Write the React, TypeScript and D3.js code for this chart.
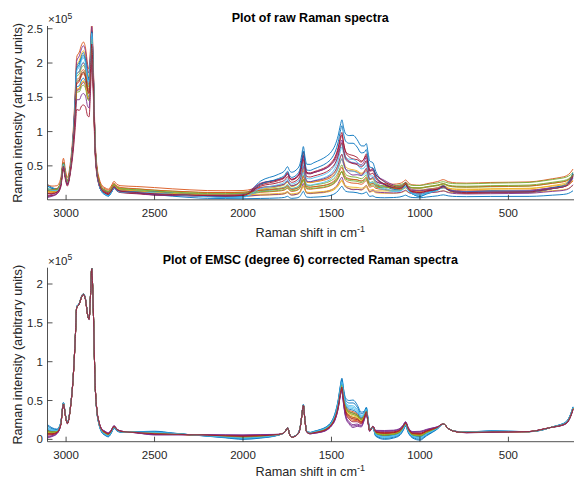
import * as d3 from 'd3'

// intensities below are in units of 1e5 (the axes show "x10^5")

// Raman shift nodes (cm-1), high to low
const shifts = [
  3105, 3080, 3052, 3030, 3015, 3003, 2993, 2975, 2959, 2948, 2940, 2925, 2912, 2902, 2890, 2878,
  2870, 2862, 2855, 2847, 2836, 2825, 2815, 2800, 2780, 2761, 2745, 2729, 2712, 2690, 2600, 2500,
  2400, 2300, 2200, 2100, 2000, 1900, 1800, 1765, 1748, 1737, 1725, 1700, 1680, 1668, 1659, 1650,
  1640, 1620, 1600, 1560, 1528, 1500, 1480, 1462, 1450, 1441, 1432, 1420, 1400, 1378, 1355, 1332,
  1315, 1303, 1294, 1284, 1266, 1250, 1200, 1150, 1113, 1095, 1081, 1066, 1040, 1000, 962, 930,
  900, 868, 840, 793, 736, 600, 500, 383, 300, 250, 209, 171, 150, 135,
]

// mean EMSC-corrected spectrum at the nodes
const corrMean = [
  0.10, 0.09, 0.10, 0.20, 0.46, 0.30, 0.21, 0.42, 0.83, 1.30, 1.70, 1.75, 1.84, 1.87, 1.80, 1.60,
  1.55, 1.85, 2.20, 1.75, 0.73, 0.35, 0.22, 0.12, 0.08, 0.06, 0.10, 0.16, 0.12, 0.10, 0.09, 0.08,
  0.07, 0.06, 0.05, 0.04, 0.03, 0.04, 0.06, 0.09, 0.15, 0.07, 0.03, 0.05, 0.12, 0.30, 0.44, 0.25,
  0.10, 0.08, 0.09, 0.11, 0.14, 0.20, 0.29, 0.45, 0.62, 0.70, 0.55, 0.40, 0.34, 0.32, 0.30, 0.25,
  0.30, 0.37, 0.25, 0.12, 0.16, 0.08, 0.06, 0.07, 0.10, 0.15, 0.20, 0.12, 0.06, 0.05, 0.09, 0.12,
  0.15, 0.20, 0.14, 0.10, 0.09, 0.10, 0.10, 0.10, 0.13, 0.16, 0.18, 0.22, 0.30, 0.40,
]

// spread of the corrected spectra around the mean (anchors)
const spreadAt = [3105, 3080, 3040, 3000, 2850, 2820, 2770, 2700, 2500, 2300, 2000, 1850, 1780, 1620, 1500, 1450, 1420, 1380, 1340, 1315, 1285, 1250, 1200, 1120, 1080, 1000, 930, 870, 600, 300, 135]
const spreadVal = [0.09, 0.06, 0.02, 0.01, 0.005, -0.02, -0.03, -0.01, 0.025, 0.0, -0.03, -0.02, 0.0, 0.01, 0.03, 0.07, 0.13, 0.19, 0.12, 0.06, 0.02, -0.04, -0.06, -0.05, -0.03, -0.06, -0.03, 0.0, 0.01, -0.005, 0.02]

// extra variation of the C-H band in the raw spectra (anchors)
const bandAt = [3105, 2965, 2948, 2940, 2925, 2902, 2890, 2878, 2870, 2862, 2855, 2845, 2830, 135]
const bandVal = [0, 0, 0.15, 0.25, 0.30, 0.33, 0.30, 0.25, 0.22, 0.15, 0.10, 0.05, 0, 0]

// share of C-H gain vs fingerprint gain (anchors)
const chAt = [3105, 2650, 2200, 135]
const chVal = [1, 1, 0, 0]

// fluorescence hump shape (anchors)
const fluoAt = [3105, 2080, 1990, 1930, 1880, 1800, 1700, 1600, 1500, 1440, 1380, 1300, 1260, 1200, 1150, 1100, 1000, 900, 135]
const fluoVal = [0, 0, 0.05, 0.35, 0.55, 0.6, 0.72, 0.85, 0.97, 1.0, 1.0, 0.9, 0.75, 0.45, 0.25, 0.12, 0.05, 0, 0]

// sloping baseline shape (anchors)
const tiltAt = [3105, 2700, 2100, 1500, 1000, 700, 400, 250, 135]
const tiltVal = [0, 0.05, 0.15, 0.35, 0.55, 0.6, 0.65, 0.75, 0.85]

// per spectrum parameters
const corrK = [1.0, 0.2, -0.3, -0.8, -0.2, 0.6, 0.1, 0.3, -0.4, 0.0, -0.7, 0.1, 0.4, -0.5, 0.8, -0.2, -0.1, -0.9, 0.0, 0.5, -0.3]
const chGain = [1.10, 1.12, 1.00, 1.05, 1.08, 1.10, 1.13, 1.05, 1.00, 1.10, 1.12, 1.02, 1.08, 0.95, 1.10, 1.05, 1.03, 1.00, 1.06, 1.10, 1.04]
const fpGain = [0.80, 0.50, 0.30, 0.40, 0.45, 0.70, 0.80, 0.25, 0.40, 0.60, 0.75, 0.33, 0.55, 0.90, 0.85, 0.45, 0.28, 0.65, 0.38, 0.70, 0.75]
const bandK = [0.2, 0.35, -0.5, -0.8, -0.3, 0.0, -0.4, -0.6, -0.2, 0.3, 0.4, -0.9, -0.1, -1.2, 0.1, -0.4, -0.7, -1.0, -0.5, 0.0, -0.3]
const offset = [0.02, 0.09, 0.03, 0.02, 0.04, 0.03, 0.02, 0.01, 0.04, 0.02, 0.03, 0.06, 0.02, 0.01, 0.02, 0.07, 0.04, 0.02, 0.05, 0.01, 0.02]
const tiltK = [0.03, 0.19, 0.08, 0.06, 0.18, 0.05, 0.03, 0.03, 0.10, 0.13, 0.05, 0.25, 0.09, 0.02, 0.03, 0.14, 0.16, 0.07, 0.20, 0.06, 0.04]
const fluoK = [0.51, 0.08, 0.02, 0.04, 0.10, 0.20, 0.35, 0.00, 0.07, 0.18, 0.35, 0.03, 0.15, 0.38, 0.40, 0.05, 0.00, 0.22, 0.03, 0.27, 0.30]

const colors = ['#0072BD', '#D95319', '#EDB120', '#7E2F8E', '#77AC30', '#4DBEEE', '#A2142F']

const xTicks = [3000, 2500, 2000, 1500, 1000, 500]
const rawYTicks = [0.5, 1, 1.5, 2, 2.5]
const corrYTicks = [0, 0.5, 1, 1.5, 2]

const W = 574
const H = 479
const FONT = '"Liberation Sans", Arial, Helvetica, sans-serif'
const INK = '#262626'

const anchor = (at: number[], val: number[]) => d3.scaleLinear().domain(at).range(val).clamp(true)
const spread = anchor(spreadAt, spreadVal)
const band = anchor(bandAt, bandVal)
const chW = anchor(chAt, chVal)
const fluo = anchor(fluoAt, fluoVal)
const tilt = anchor(tiltAt, tiltVal)

const corrected: number[][] = corrK.map((k) => shifts.map((s, j) => corrMean[j] + k * spread(s)))
const raw: number[][] = corrected.map((c, i) =>
  shifts.map((s, j) => {
    const g = fpGain[i] + (chGain[i] - fpGain[i]) * chW(s)
    return g * c[j] + bandK[i] * band(s) + offset[i] + tiltK[i] * tilt(s) + fluoK[i] * fluo(s)
  })
)

const x = d3.scaleLinear().domain([3105, 135]).range([47.5, 573])

type PanelProps = {
  id: string
  series: number[][]
  yDomain: [number, number]
  yRange: [number, number]
  yTicks: number[]
  title: string
  titleY: number
  tickLabelY: number
  xLabelY: number
}

function Panel({ id, series, yDomain, yRange, yTicks, title, titleY, tickLabelY, xLabelY }: PanelProps) {
  const y = d3.scaleLinear().domain(yDomain).range(yRange)
  const line = d3
    .line<number>()
    .x((_, j) => x(shifts[j]))
    .y((d) => y(d))
    .curve(d3.curveMonotoneX)
  const [bottom, top] = yRange
  const left = 47.5
  const right = 573
  const mid = (left + right) / 2
  return (
    <g>
      <defs>
        <clipPath id={id}>
          <rect x={left} y={top} width={right - left + 2} height={bottom - top} />
        </clipPath>
      </defs>
      <g clipPath={`url(#${id})`} fill="none" strokeWidth={0.9}>
        {series.map((s, i) => (
          <path key={i} d={line(s) || ''} stroke={colors[i % colors.length]} />
        ))}
      </g>
      {/* axes */}
      <line x1={left} x2={left} y1={top} y2={bottom} stroke={INK} strokeWidth={0.8} />
      <line x1={left} x2={W} y1={bottom} y2={bottom} stroke={INK} strokeWidth={0.8} />
      {xTicks.map((t) => (
        <g key={t}>
          <line x1={x(t)} x2={x(t)} y1={bottom} y2={bottom - 5} stroke={INK} strokeWidth={0.8} />
          <text x={x(t)} y={tickLabelY} textAnchor="middle" fontSize={11.5} fill={INK} fontFamily={FONT}>
            {t}
          </text>
        </g>
      ))}
      {yTicks.map((t) => (
        <g key={t}>
          <line x1={left} x2={left + 5} y1={y(t)} y2={y(t)} stroke={INK} strokeWidth={0.8} />
          <text x={43} y={y(t) + 4} textAnchor="end" fontSize={11.5} fill={INK} fontFamily={FONT}>
            {t}
          </text>
        </g>
      ))}
      <text x={48} y={top - 3} fontSize={11.5} fill={INK} fontFamily={FONT}>
        ×10
        <tspan dy={-4.5} fontSize={8.5}>
          5
        </tspan>
      </text>
      <text
        x={mid}
        y={titleY}
        textAnchor="middle"
        fontSize={12.5}
        fontWeight="bold"
        fill="#000"
        fontFamily={FONT}
      >
        {title}
      </text>
      <text x={mid} y={xLabelY} textAnchor="middle" fontSize={12.7} fill={INK} fontFamily={FONT}>
        Raman shift in cm
        <tspan dy={-5.5} fontSize={9}>
          -1
        </tspan>
      </text>
      <text
        transform={`translate(22,${(top + bottom) / 2}) rotate(-90)`}
        textAnchor="middle"
        fontSize={12.7}
        fill={INK}
        fontFamily={FONT}
      >
        Raman intensity (arbitrary units)
      </text>
    </g>
  )
}

export default function App() {
  return (
    <svg
      width={W}
      height={H}
      viewBox={`0 0 ${W} ${H}`}
      style={{ position: 'absolute', left: 0, top: 0, background: '#fff' }}
    >
      <rect width={W} height={H} fill="#fff" />
      <Panel
        id="rawclip"
        series={raw}
        yDomain={[0.005, 2.54]}
        yRange={[199.8, 26]}
        yTicks={rawYTicks}
        title="Plot of raw Raman spectra"
        titleY={22}
        tickLabelY={217}
        xLabelY={237}
      />
      <Panel
        id="corrclip"
        series={corrected}
        yDomain={[-0.03, 2.21]}
        yRange={[441.7, 267.7]}
        yTicks={corrYTicks}
        title="Plot of EMSC (degree 6) corrected Raman spectra"
        titleY={264}
        tickLabelY={459}
        xLabelY={476}
      />
    </svg>
  )
}
